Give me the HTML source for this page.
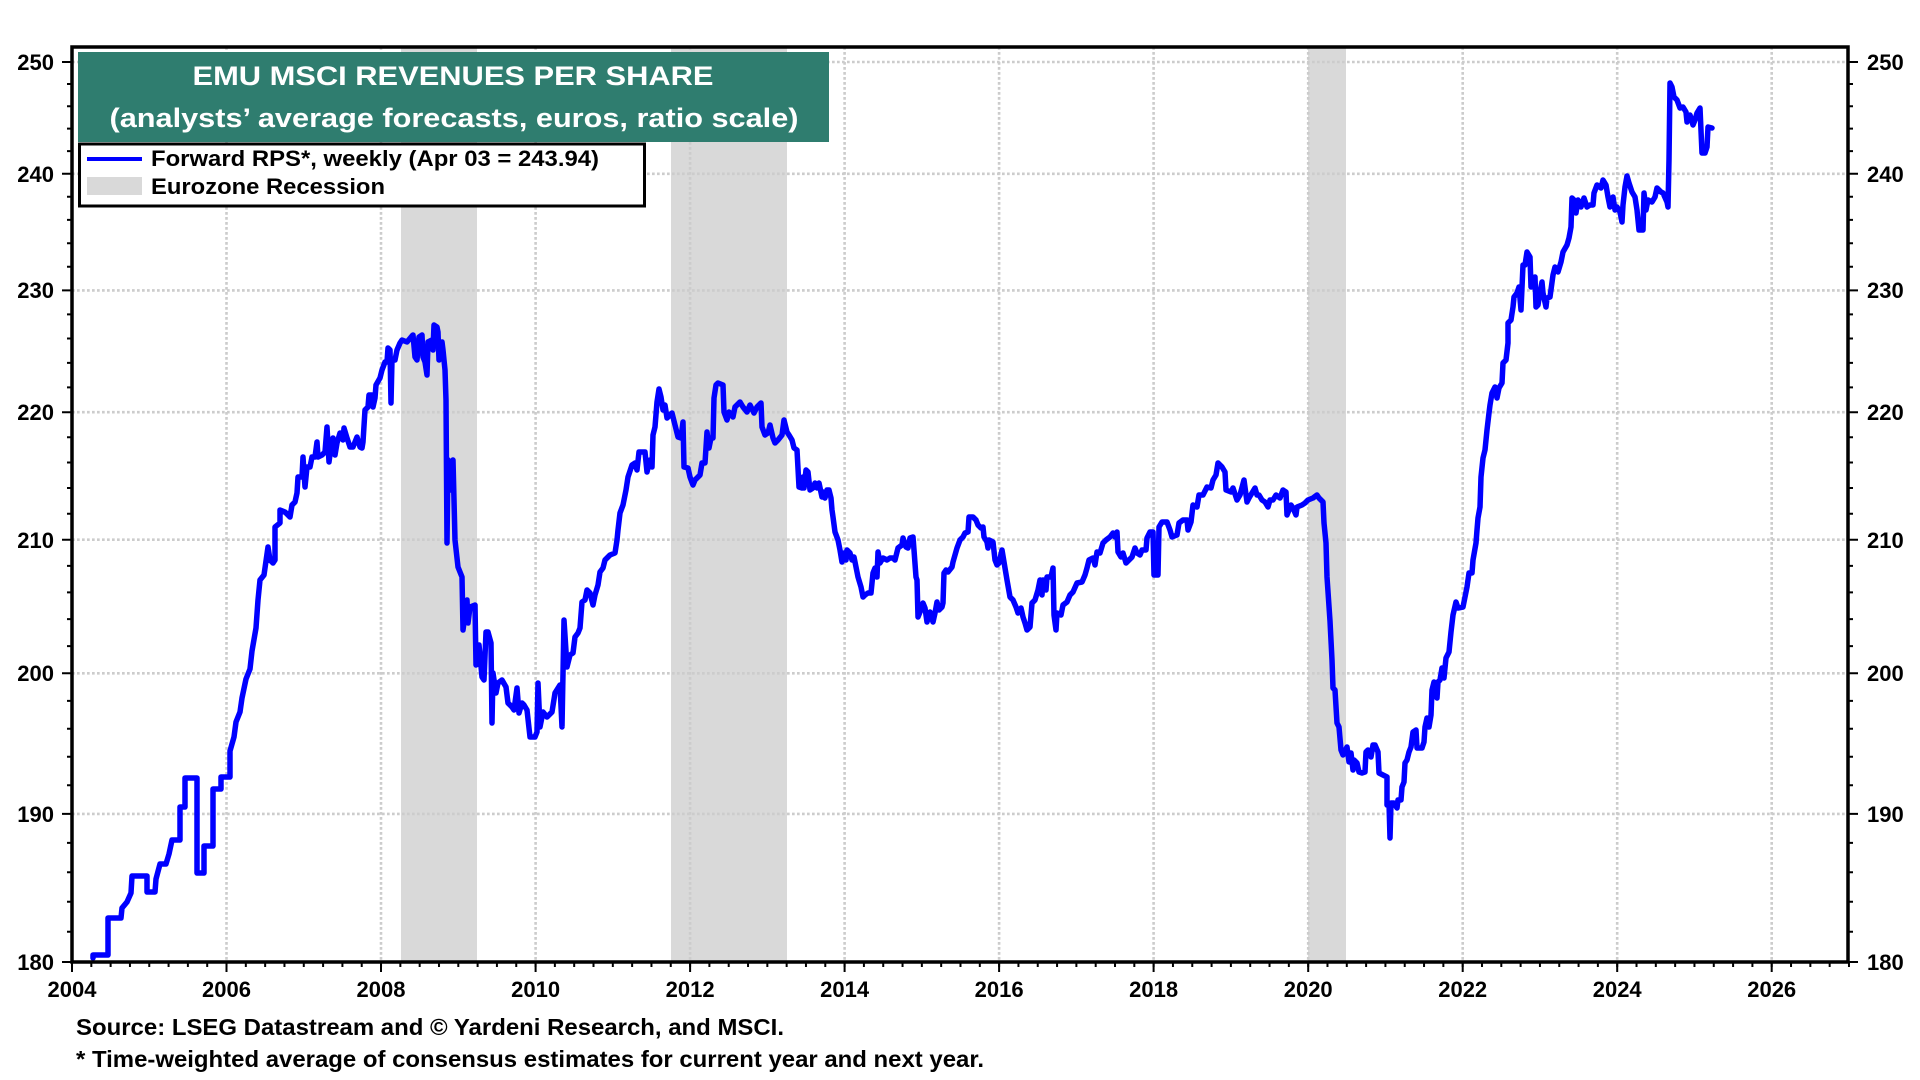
<!DOCTYPE html>
<html><head><meta charset="utf-8"><style>
html,body{margin:0;padding:0;background:#fff;}
svg{display:block;}
text{font-family:"Liberation Sans",Arial,sans-serif;font-weight:bold;}
</style></head><body>
<svg width="1920" height="1080" viewBox="0 0 1920 1080" xmlns="http://www.w3.org/2000/svg">
<defs>
<pattern id="xt" x="71" y="962" width="19.315" height="6" patternUnits="userSpaceOnUse">
<rect x="0" y="0" width="2" height="6" fill="#000"/>
</pattern>
</defs>
<rect x="0" y="0" width="1920" height="1080" fill="#fff"/>
<!-- recession bands -->
<g fill="#d9d9d9">
<rect x="401" y="47" width="76" height="915"/>
<rect x="671" y="47" width="116" height="915"/>
<rect x="1308" y="47" width="38" height="915"/>
</g>
<!-- gridlines -->
<g stroke="#cccccc" stroke-width="2.6" stroke-dasharray="2.7 2.3" fill="none">
<path d="M72,62H1848M72,173.8H1848M72,290.4H1848M72,412.2H1848M72,539.7H1848M72,673.3H1848M72,813.9H1848"/>
<path d="M226.5,47V962M381,47V962M535.6,47V962M690.1,47V962M844.6,47V962M999.1,47V962M1153.6,47V962M1308.2,47V962M1462.7,47V962M1617.2,47V962M1771.7,47V962"/>
</g>
<!-- title box -->
<rect x="78" y="52" width="751" height="90" fill="#2f7d6f"/>
<text x="453" y="85" font-size="27" fill="#fff" text-anchor="middle" textLength="521" lengthAdjust="spacingAndGlyphs">EMU MSCI REVENUES PER SHARE</text>
<text x="454" y="127" font-size="27" fill="#fff" text-anchor="middle" textLength="689" lengthAdjust="spacingAndGlyphs">(analysts’ average forecasts, euros, ratio scale)</text>
<!-- legend -->
<rect x="79.5" y="144" width="565" height="62" fill="#fff" stroke="#000" stroke-width="3"/>
<line x1="87" y1="159" x2="142" y2="159" stroke="#0000ff" stroke-width="4"/>
<rect x="87" y="177" width="55" height="18" fill="#d9d9d9"/>
<text x="151" y="166" font-size="22" fill="#000" textLength="448" lengthAdjust="spacingAndGlyphs">Forward RPS*, weekly (Apr 03 = 243.94)</text>
<text x="151" y="194" font-size="22" fill="#000" textLength="234" lengthAdjust="spacingAndGlyphs">Eurozone Recession</text>
<!-- series -->
<polyline fill="none" stroke="#0000ff" stroke-width="5.5" stroke-linejoin="round" stroke-linecap="round" points="
93,958 93,955 108,955 108,918 121,918 122,908 127,902 131,893 132,876 147,876 147,892 155,892 156,879 160,864 166,864 169,854 172,840 180,840 180,807 185,807 185,778 197,778 197,873 204,873 204,846 213,846 213,789 221,789 221,777 230,777 230,751 234,737 236,722 240,712 242,698 246,679 250,669 252,651 256,628 258,600 260,580 264,575 268,547 270,560 273,563 275,560 275,527 280,523 280,510 285,512 290,517 292,505 295,502 297,493 298,477 302,477 303,457 305,487 307,467 310,467 312,457 315,457 317,442 318,457 322,455 325,452 327,427 329,462 331,447 333,438 335,455 337,443 340,433 343,440 344,428 347,438 350,447 353,447 357,437 360,447 362,448 363,442 365,410 368,407 369,395 372,395 373,407 375,398 376,385 380,378 382,370 385,362 387,362 388,348 390,350 391,403 392,360 395,360 397,350 400,343 402,340 407,342 412,336 413,335 415,357 417,360 419,337 422,335 423,357 425,362 427,375 428,342 432,340 433,350 434,325 437,327 438,332 439,360 442,342 443,350 445,370 446,400 447,543 448,460 451,490 453,460 455,540 458,567 462,577 463,630 467,600 468,623 470,607 475,605 476,665 479,645 482,677 484,680 486,632 488,632 491,643 492,723 493,673 496,693 498,683 502,680 506,687 508,703 512,707 514,710 517,688 519,713 522,703 524,705 527,710 530,737 535,737 537,732 538,683 540,727 543,712 547,717 552,712 555,693 560,685 562,727 564,620 567,667 570,655 573,653 575,637 578,633 580,628 582,602 585,600 587,590 590,593 593,605 595,595 598,585 600,572 603,568 605,560 610,555 615,553 617,540 618,530 620,513 623,505 626,490 628,477 632,465 635,463 637,470 639,452 645,452 647,472 650,460 652,467 653,435 655,427 657,402 659,389 661,397 663,410 665,405 667,418 672,413 675,425 678,437 681,438 683,422 684,467 688,468 690,477 693,485 695,480 700,475 702,463 705,463 707,432 709,448 711,438 713,438 714,398 716,385 718,383 723,385 724,412 727,420 729,412 733,417 735,407 740,402 743,407 747,412 750,405 754,413 757,407 761,403 762,427 765,435 768,433 770,425 773,438 775,443 778,440 782,435 784,420 787,432 789,435 792,440 794,448 797,450 799,487 802,488 803,477 804,488 806,470 808,472 810,490 813,488 815,483 817,488 819,483 822,497 823,492 825,498 827,490 829,490 831,498 832,510 833,517 835,532 838,540 840,550 842,562 844,553 846,560 847,550 850,553 852,560 854,557 856,567 858,577 861,587 863,597 865,595 868,593 871,593 873,573 875,568 877,577 878,552 880,563 883,558 887,560 890,558 893,558 895,560 898,548 902,545 903,538 906,547 908,548 910,538 913,537 914,550 916,577 917,580 918,617 922,607 923,603 925,608 927,622 930,612 933,622 935,613 937,602 939,610 942,607 943,603 944,573 946,570 948,572 952,567 953,562 955,555 957,548 960,540 963,537 965,533 968,532 969,517 973,517 976,520 978,525 981,528 983,527 984,537 987,542 988,548 989,540 993,542 995,560 997,565 999,563 1002,550 1004,562 1007,580 1010,597 1013,600 1016,607 1018,613 1021,608 1023,617 1025,623 1027,630 1030,627 1032,603 1035,600 1038,590 1040,580 1042,595 1043,580 1046,590 1047,577 1051,577 1053,568 1054,615 1056,630 1057,613 1061,615 1063,605 1067,602 1070,595 1073,592 1077,583 1082,582 1085,575 1087,568 1089,560 1093,558 1095,565 1097,552 1100,553 1103,543 1106,540 1110,537 1113,533 1115,537 1117,532 1118,552 1121,557 1123,553 1126,563 1129,560 1132,557 1135,548 1137,553 1140,555 1142,550 1146,550 1147,538 1150,532 1153,532 1154,575 1158,575 1159,527 1162,522 1167,522 1170,530 1172,537 1177,535 1179,523 1183,520 1187,520 1188,530 1191,522 1193,505 1197,507 1199,495 1203,495 1207,487 1211,488 1213,480 1216,475 1218,463 1222,467 1225,472 1226,490 1231,492 1233,488 1237,500 1240,495 1244,480 1247,502 1249,498 1252,493 1255,488 1257,495 1259,495 1262,500 1265,502 1268,507 1270,500 1273,500 1276,495 1280,498 1283,490 1286,492 1287,515 1291,505 1293,508 1296,515 1297,507 1302,505 1305,503 1308,500 1313,498 1317,495 1319,498 1323,502 1324,523 1326,543 1327,577 1330,621 1332,660 1333,688 1335,690 1337,723 1339,727 1341,750 1343,755 1347,747 1349,762 1351,753 1353,770 1354,760 1357,763 1359,772 1362,773 1365,772 1366,752 1368,750 1371,757 1373,745 1375,745 1378,752 1379,773 1383,775 1387,777 1387,805 1389,803 1390,838 1391,803 1394,803 1397,808 1398,800 1401,800 1402,787 1404,782 1405,763 1407,760 1409,752 1411,747 1413,732 1416,730 1417,748 1422,748 1424,742 1425,727 1427,718 1429,727 1431,715 1432,690 1434,682 1437,698 1438,682 1440,680 1442,668 1444,678 1446,658 1449,652 1451,632 1453,615 1456,602 1458,608 1463,607 1465,597 1467,587 1469,573 1472,573 1473,560 1476,543 1477,530 1478,518 1480,507 1481,477 1483,458 1485,450 1487,430 1489,413 1490,405 1492,393 1495,387 1497,398 1499,388 1502,383 1503,363 1506,360 1508,343 1508,323 1511,320 1513,307 1514,297 1517,293 1519,287 1521,310 1523,265 1525,265 1527,252 1530,257 1531,287 1533,278 1535,277 1536,307 1538,305 1540,292 1542,282 1543,293 1546,307 1547,298 1550,297 1553,275 1555,267 1558,272 1561,262 1563,252 1567,245 1569,238 1571,227 1572,198 1574,200 1576,213 1578,200 1581,207 1584,198 1587,207 1590,205 1593,205 1594,193 1597,185 1601,188 1603,180 1606,185 1608,197 1610,207 1613,197 1615,210 1617,207 1620,212 1622,222 1623,205 1625,187 1627,176 1629,183 1632,192 1635,197 1637,210 1639,230 1643,230 1644,193 1646,210 1648,200 1652,202 1655,197 1657,188 1661,192 1663,193 1667,202 1668,207 1669,160 1670,83 1672,87 1674,97 1677,100 1680,108 1683,107 1686,112 1687,122 1690,115 1693,125 1695,120 1697,113 1700,108 1702,153 1705,153 1707,147 1708,127 1712,128"/>
<!-- y ticks -->
<g stroke="#000" stroke-width="2" fill="none">
<path d="M62,62h10M62,173.8h10M62,290.4h10M62,412.2h10M62,539.7h10M62,673.3h10M62,813.9h10M62,962h10"/>
<path d="M1848,62h10M1848,173.8h10M1848,290.4h10M1848,412.2h10M1848,539.7h10M1848,673.3h10M1848,813.9h10M1848,962h10"/>
<path d="M67,931.7h5M67,901.8h5M67,872.2h5M67,842.9h5M67,785.2h5M67,756.8h5M67,728.7h5M67,700.9h5M67,646.1h5M67,619.1h5M67,592.4h5M67,565.9h5M67,513.7h5M67,488h5M67,462.5h5M67,437.2h5M67,387.4h5M67,362.9h5M67,338.5h5M67,314.4h5M67,266.7h5M67,243.2h5M67,219.9h5M67,196.8h5M67,151.1h5M67,128.6h5M67,106.2h5M67,84h5"/>
<path d="M1848,931.7h5M1848,901.8h5M1848,872.2h5M1848,842.9h5M1848,785.2h5M1848,756.8h5M1848,728.7h5M1848,700.9h5M1848,646.1h5M1848,619.1h5M1848,592.4h5M1848,565.9h5M1848,513.7h5M1848,488h5M1848,462.5h5M1848,437.2h5M1848,387.4h5M1848,362.9h5M1848,338.5h5M1848,314.4h5M1848,266.7h5M1848,243.2h5M1848,219.9h5M1848,196.8h5M1848,151.1h5M1848,128.6h5M1848,106.2h5M1848,84h5"/>
<path d="M72,962v10M226.5,962v10M381,962v10M535.6,962v10M690.1,962v10M844.6,962v10M999.1,962v10M1153.6,962v10M1308.2,962v10M1462.7,962v10M1617.2,962v10M1771.7,962v10"/>
</g>
<rect x="71" y="962" width="1779" height="5" fill="url(#xt)"/>
<!-- frame -->
<rect x="72" y="47" width="1776" height="915" fill="none" stroke="#000" stroke-width="3.5"/>
<!-- y labels -->
<g font-size="22" fill="#000" text-anchor="end">
<text x="54" y="70">250</text>
<text x="54" y="182">240</text>
<text x="54" y="298">230</text>
<text x="54" y="420">220</text>
<text x="54" y="548">210</text>
<text x="54" y="681">200</text>
<text x="54" y="822">190</text>
<text x="54" y="970">180</text>
</g>
<g font-size="22" fill="#000" text-anchor="start">
<text x="1867" y="70">250</text>
<text x="1867" y="182">240</text>
<text x="1867" y="298">230</text>
<text x="1867" y="420">220</text>
<text x="1867" y="548">210</text>
<text x="1867" y="681">200</text>
<text x="1867" y="822">190</text>
<text x="1867" y="970">180</text>
</g>
<!-- x labels -->
<g font-size="22" fill="#000" text-anchor="middle">
<text x="72" y="997">2004</text>
<text x="226.5" y="997">2006</text>
<text x="381" y="997">2008</text>
<text x="535.6" y="997">2010</text>
<text x="690.1" y="997">2012</text>
<text x="844.6" y="997">2014</text>
<text x="999.1" y="997">2016</text>
<text x="1153.6" y="997">2018</text>
<text x="1308.2" y="997">2020</text>
<text x="1462.7" y="997">2022</text>
<text x="1617.2" y="997">2024</text>
<text x="1771.7" y="997">2026</text>
</g>
<!-- source -->
<text x="76" y="1035" font-size="23" fill="#000" textLength="708" lengthAdjust="spacingAndGlyphs">Source: LSEG Datastream and © Yardeni Research, and MSCI.</text>
<text x="76" y="1067" font-size="23" fill="#000" textLength="908" lengthAdjust="spacingAndGlyphs">* Time-weighted average of consensus estimates for current year and next year.</text>
</svg>
</body></html>
